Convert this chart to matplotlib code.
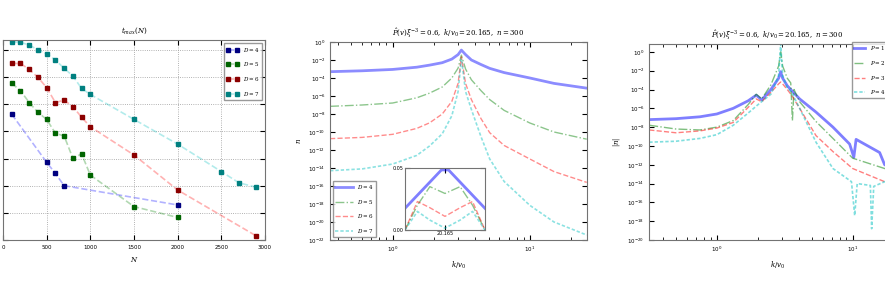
import numpy as np
import matplotlib
matplotlib.use('Agg')
import matplotlib.pyplot as plt

# ---- panel 1 data: t_max(N)
labels_D = ['$D=4$', '$D=5$', '$D=6$', '$D=7$']
n_d4 = [100, 500, 600, 700, 2000]
t_d4 = [4.63, 2.86, 2.45, 2.0, 1.29]
n_d5 = [100, 200, 300, 400, 500, 600, 700, 800, 900, 1000, 1500, 2000]
t_d5 = [5.77, 5.50, 5.06, 4.70, 4.44, 3.93, 3.83, 3.01, 3.17, 2.39, 1.23, 0.83]
n_d6 = [100, 200, 300, 400, 500, 600, 700, 800, 900, 1000, 1500, 2000, 2900]
t_d6 = [6.50, 6.50, 6.28, 5.99, 5.61, 5.06, 5.15, 4.91, 4.52, 4.17, 3.13, 1.84, 0.15]
n_d7 = [100, 200, 300, 400, 500, 600, 700, 800, 900, 1000, 1500, 2000, 2500, 2700, 2900]
t_d7 = [7.30, 7.28, 7.18, 7.0, 6.85, 6.63, 6.32, 6.04, 5.58, 5.36, 4.44, 3.53, 2.52, 2.11, 1.94]

# ---- panel 2 data: n vs k/v0 (log10 of n)
kv = [0.35, 0.6, 1.0, 1.5, 1.86, 2.3, 2.7, 3.0, 3.17, 3.4, 3.75, 4.4, 5.1, 6.5, 10, 15, 26]
logn_d4 = [-3.3, -3.2, -3.05, -2.8, -2.57, -2.3, -1.9, -1.4, -0.9, -1.4, -2.0, -2.5, -2.93, -3.4, -4.0, -4.6, -5.13]
logn_d5 = [-7.15, -7.0, -6.78, -6.2, -5.68, -5.0, -4.0, -2.9, -1.46, -3.0, -4.2, -5.4, -6.4, -7.6, -9.0, -10.0, -10.8]
logn_d6 = [-10.74, -10.6, -10.26, -9.6, -8.98, -8.0, -6.6, -4.6, -1.65, -4.6, -6.4, -8.5, -10.08, -11.5, -13.0, -14.4, -15.6]
logn_d7 = [-14.3, -14.1, -13.56, -12.6, -11.55, -10.2, -8.2, -5.5, -1.83, -5.5, -7.5, -10.5, -13.0, -15.5, -18.15, -20.0, -21.45]

# inset (zoom of the peak)
ins_x4 = [20.12, 20.161, 20.169, 20.21]
ins_y4 = [0.0175, 0.0485, 0.0485, 0.0175]
ins_x = [20.12, 20.134, 20.148, 20.165, 20.182, 20.196, 20.21]
ins_y5 = [0.0, 0.020, 0.035, 0.0295, 0.035, 0.020, 0.0]
ins_y6 = [0.0, 0.023, 0.018, 0.011, 0.018, 0.023, 0.0]
ins_y7 = [0.0, 0.015, 0.008, 0.0015, 0.008, 0.015, 0.0]

# ---- panel 3 data: |n| vs k/v0 (log10)
kv3_a = [0.318, 0.5, 0.75, 1.0, 1.32, 1.7, 1.95, 2.14, 2.5, 2.85, 2.95, 3.05, 3.3, 3.55, 4.07, 5.37, 7.16, 9.5, 10.2, 10.6, 15.8, 17.2, 25]
logm_p1 = [-7.2, -7.1, -6.9, -6.6, -6.0, -5.2, -4.6, -5.1, -4.0, -2.8, -2.1, -2.8, -3.6, -4.1, -5.0, -6.4, -8.0, -9.8, -11.2, -9.3, -10.7, -12.0, -13.0]
kv3_b = [0.318, 0.5, 0.75, 1.0, 1.32, 1.7, 1.95, 2.14, 2.5, 2.85, 2.95, 3.05, 3.3, 3.5, 3.6, 3.7, 4.07, 5.37, 7.16, 10, 17.2, 25]
logm_p2 = [-7.8, -8.2, -8.3, -8.0, -7.3, -5.6, -4.5, -5.0, -3.5, -1.5, 0.0, -1.5, -2.8, -3.3, -7.3, -4.0, -5.3, -7.4, -9.2, -11.3, -12.4, -13.2]
kv3_c = [0.318, 0.5, 0.75, 1.0, 1.32, 1.7, 1.95, 2.14, 2.5, 2.85, 2.95, 3.05, 3.3, 3.55, 4.07, 5.37, 7.16, 10, 17.2, 25]
logm_p3 = [-8.3, -8.6, -8.4, -8.1, -7.5, -5.9, -5.0, -5.3, -4.3, -3.4, -3.2, -3.4, -4.0, -4.6, -6.0, -8.9, -10.6, -12.4, -13.8, -14.5]
kv3_d = [0.318, 0.5, 0.75, 1.0, 1.32, 1.7, 2.05, 2.5, 2.85, 2.95, 3.05, 3.3, 3.55, 4.07, 5.37, 7.16, 9.8, 10.35, 10.8, 13.5, 13.8, 14.3, 17.2, 25]
logm_p4 = [-9.6, -9.5, -9.2, -8.8, -7.8, -6.5, -5.5, -4.5, -2.5, 0.85, -2.5, -3.8, -4.3, -6.0, -9.6, -12.4, -13.8, -17.4, -14.0, -14.2, -18.8, -14.3, -13.8, -14.5]
labels_P = ['$P=1$', '$P=2$', '$P=3$', '$P=4$']

blue = (0, 0, 1)
green = (0, 0.5, 0)
red = (1, 0, 0)
cyan = (0, 0.75, 0.75)
cols = [blue, green, red, cyan]
darks = ['navy', 'darkgreen', 'darkred', 'teal']

plt.rcParams['font.size'] = 5
plt.rcParams['xtick.direction'] = 'in'
plt.rcParams['ytick.direction'] = 'in'
plt.rcParams['xtick.top'] = True
plt.rcParams['ytick.right'] = True
plt.rcParams['xtick.labelsize'] = 4
plt.rcParams['ytick.labelsize'] = 4
plt.rcParams['axes.edgecolor'] = '0.45'
plt.rcParams['mathtext.fontset'] = 'dejavuserif'

fig = plt.figure(figsize=(8.85, 2.88), dpi=100)
fig.patch.set_facecolor('white')

# ================= panel 1 (its y tick labels fall outside the picture)
ax1 = fig.add_axes([0.0034, 0.1667, 0.296, 0.694])
for n, t, c, d, lab in zip([n_d4, n_d5, n_d6, n_d7], [t_d4, t_d5, t_d6, t_d7], cols, darks, labels_D):
    ax1.plot(n, t, '--s', color=c + (0.3,), lw=1.2, ms=3.5, mfc=d, mec=d, label=lab)
ax1.set_xlim(0, 3000)
ax1.set_ylim(0, 7.36)
ax1.set_xticks(np.arange(0, 3001, 500))
ax1.set_yticks(np.arange(0, 8, 1))
ax1.tick_params(axis='y', labelleft=False)
ax1.grid(True, color='0.6', ls=':', lw=0.6)
ax1.set_xlabel('$N$', fontsize=5, labelpad=4)
ax1.set_title('$t_{max}(N)$', fontsize=5, pad=5)
ax1.legend(loc='upper right', numpoints=2, fontsize=4, handlelength=2.2, borderpad=0.5, labelspacing=1.2, fancybox=False, edgecolor='0.5')

# ================= panel 2
ax2 = fig.add_axes([0.373, 0.1667, 0.290, 0.6875])
styles = ['-', '-.', '--', (0, (2, 1.2))]
widths = [2.0, 1.0, 1.0, 1.2]
for ly, c, st, w, lab in zip([logn_d4, logn_d5, logn_d6, logn_d7], cols, styles, widths, labels_D):
    ax2.loglog(kv, 10.0 ** np.array(ly), ls=st, color=c, alpha=0.45, lw=w, label=lab)
ax2.set_xlim(0.35, 26)
ax2.set_ylim(1e-22, 1e0)
ax2.set_yticks([10.0 ** e for e in range(0, -23, -2)])
ax2.set_xlabel('$k/v_0$', fontsize=5)
ax2.set_ylabel('$n$', fontsize=5)
ax2.set_title(r'$\hat{P}(v)\xi^{-3}=0.6,\ k/v_0=20.165,\ n=300$', fontsize=5, pad=4)
ax2.legend(loc='lower left', fontsize=4, handlelength=3.2, labelspacing=1.2, fancybox=False, edgecolor='0.5')

axi = fig.add_axes([0.4576, 0.2014, 0.0904, 0.215])
axi.plot(ins_x4, ins_y4, '-', color=blue, alpha=0.5, lw=2)
axi.plot(ins_x, ins_y5, '-.', color=green, alpha=0.45, lw=1)
axi.plot(ins_x, ins_y6, '--', color=red, alpha=0.45, lw=1)
axi.plot(ins_x, ins_y7, ls=(0, (2, 1.2)), color=cyan, alpha=0.45, lw=1.2)
axi.set_xlim(20.12, 20.21)
axi.set_ylim(0, 0.05)
axi.set_xticks([20.165])
axi.set_xticklabels(['20.165'])
axi.set_yticks([0, 0.05])
axi.set_yticklabels(['0.00', '0.05'])
axi.tick_params(labelsize=3.5, pad=1)

# ================= panel 3 (right part runs off the picture)
ax3 = fig.add_axes([0.7333, 0.1667, 0.290, 0.6805])
for xs, ly, c, st, w, lab in zip([kv3_a, kv3_b, kv3_c, kv3_d], [logm_p1, logm_p2, logm_p3, logm_p4],
                                 cols, styles, widths, labels_P):
    ax3.loglog(xs, 10.0 ** np.array(ly), ls=st, color=c, alpha=0.5, lw=w, label=lab)
ax3.set_xlim(10 ** -0.5, 10 ** 1.39)
ax3.set_ylim(1e-20, 10 ** 0.84)
ax3.set_yticks([10.0 ** e for e in range(0, -21, -2)])
ax3.set_xlabel('$k/v_0$', fontsize=5)
ax3.set_ylabel('$|n|$', fontsize=5)
ax3.set_title(r'$\hat{P}(v)\xi^{-3}=0.6,\ k/v_0=20.165,\ n=300$', fontsize=5, pad=4)
ax3.legend(loc='upper left', bbox_to_anchor=(852 / 885, 246 / 288), bbox_transform=fig.transFigure,
           borderaxespad=0, fontsize=4, handlelength=2.0, labelspacing=1.2,
           fancybox=False, edgecolor='0.5')

fig.savefig('out.png', dpi=100, facecolor='white')
